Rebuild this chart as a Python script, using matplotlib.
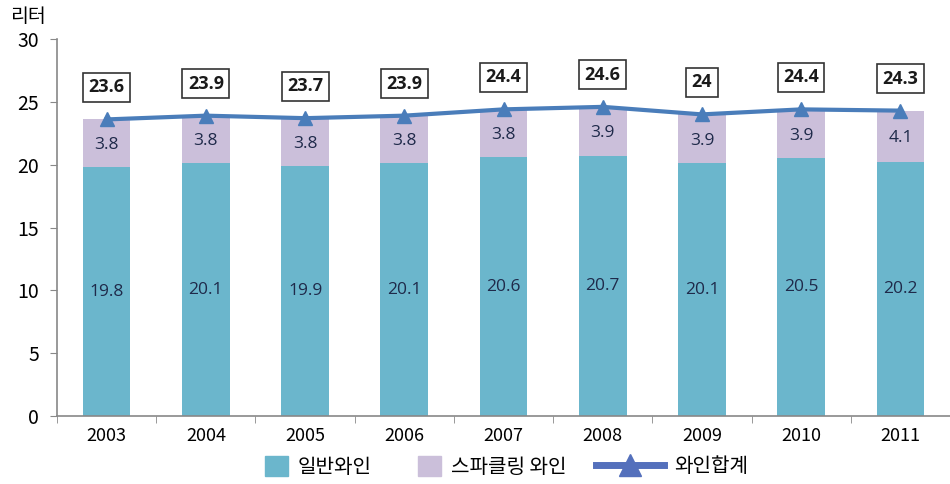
import matplotlib.pyplot as plt
from matplotlib.lines import Line2D
from matplotlib.patches import Patch
import numpy as np

plt.rcParams['font.family'] = ['Noto Sans CJK KR', 'DejaVu Sans']

years = ["2003", "2004", "2005", "2006", "2007", "2008", "2009", "2010", "2011"]
still_wine = [19.8, 20.1, 19.9, 20.1, 20.6, 20.7, 20.1, 20.5, 20.2]
sparkling = [3.8, 3.8, 3.8, 3.8, 3.8, 3.9, 3.9, 3.9, 4.1]
totals = [23.6, 23.9, 23.7, 23.9, 24.4, 24.6, 24.0, 24.4, 24.3]
total_labels = ["23.6", "23.9", "23.7", "23.9", "24.4", "24.6", "24", "24.4", "24.3"]

c_still = '#6BB6CC'
c_spark = '#CBBFDA'
c_line = '#4A7DBA'
c_text = '#1F2A4A'

fig = plt.figure(figsize=(9.5, 4.84), dpi=100)
ax = fig.add_axes([57 / 950, 68 / 484, (950 - 57) / 950, 377 / 484])

x = np.arange(len(years))
ax.bar(x, still_wine, width=0.48, color=c_still, zorder=2)
ax.bar(x, sparkling, width=0.48, bottom=still_wine, color=c_spark, zorder=2)
ax.plot(x, totals, color=c_line, lw=3, marker='^', markersize=10, zorder=3)

lab_font = dict(family=['Open Sans', 'DejaVu Sans'], fontsize=12.5, color=c_text)
for i in range(len(years)):
    ax.text(x[i], still_wine[i] / 2, f"{still_wine[i]}", ha='center', va='center', **lab_font)
    ax.text(x[i], still_wine[i] + sparkling[i] / 2 - 0.15, f"{sparkling[i]}", ha='center', va='center', **lab_font)
    ax.annotate(total_labels[i], (x[i], totals[i]), xytext=(0, 23), textcoords='offset points',
                ha='center', va='center', fontsize=13, fontweight='bold', color='#1a1a1a',
                family=['Open Sans', 'DejaVu Sans'],
                bbox=dict(boxstyle='square,pad=0.3', fc='white', ec='#333333', lw=1.2))

ax.set_ylim(0, 30)
ax.set_xlim(-0.5, 8.44)
ax.set_yticks([0, 5, 10, 15, 20, 25, 30])
ax.tick_params(axis='y', labelsize=14, length=5, color='#888888', pad=8)
ax.set_xticks(x)
ax.set_xticklabels(years)
ax.tick_params(axis='x', labelsize=13, length=0, pad=8)
ax.set_xticks(np.arange(-0.5, 9, 1), minor=True)
ax.tick_params(axis='x', which='minor', length=5, color='#888888')

for s in ['top', 'right']:
    ax.spines[s].set_visible(False)
for s in ['left', 'bottom']:
    ax.spines[s].set_color('#888888')
    ax.spines[s].set_linewidth(1.2)

fig.text(10 / 950, 1 - 17 / 484, "리터", fontsize=14, va='center', ha='left')

# legend split in two so the squares and the long line handle can have different sizes
bar_handles = [Patch(color=c_still), Patch(color=c_spark)]
fig.legend(bar_handles, ["일반와인", "스파클링 와인"], loc='center', ncol=2,
           bbox_to_anchor=(416 / 950, 17 / 484), frameon=False, fontsize=14.5,
           handlelength=1.14, handleheight=1.14, columnspacing=2.3, handletextpad=0.5)
line_handle = [Line2D([], [], color='#5470BC', lw=5, marker='^', markersize=16)]
fig.legend(line_handle, ["와인합계"], loc='center',
           bbox_to_anchor=(672 / 950, 17 / 484), frameon=False, fontsize=14.5,
           handlelength=3.4, handletextpad=0.5)

fig.savefig("out.png", dpi=100)
